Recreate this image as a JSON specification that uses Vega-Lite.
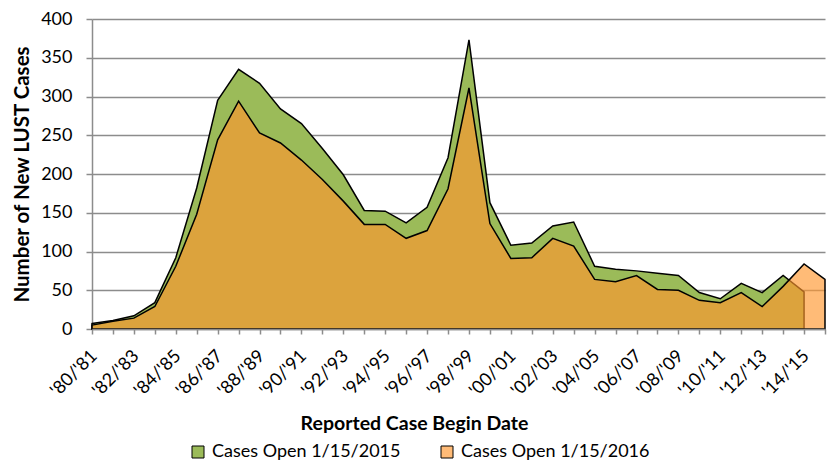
{
  "$schema": "https://vega.github.io/schema/vega-lite/v6.json",
  "width": 733,
  "height": 310,
  "autosize": {"type": "none"},
  "padding": {"left": 92, "top": 19, "right": 8, "bottom": 131},
  "background": "white",
  "config": {
    "font": "Lato",
    "view": {"stroke": null},
    "axis": {
      "labelFont": "Lato",
      "labelFontSize": 18,
      "labelColor": "#000000",
      "titleFont": "Lato",
      "titleFontSize": 19.5,
      "titleFontWeight": "bold",
      "titleColor": "#000000",
      "domainColor": "#8c8c8c",
      "domainWidth": 1.5,
      "tickColor": "#8c8c8c",
      "tickWidth": 1.5,
      "gridColor": "#8c8c8c",
      "gridWidth": 1.5
    },
    "axisY": {
      "values": [0, 50, 100, 150, 200, 250, 300, 350, 400],
      "labelOverlap": false,
      "tickSize": 6,
      "labelPadding": 14,
      "grid": true,
      "titleFontSize": 20.5,
      "titleX": -70,
      "titleY": 155,
      "titleAlign": "center",
      "titleBaseline": "middle"
    },
    "legend": {
      "labelFont": "Lato",
      "labelFontSize": 18,
      "labelColor": "#000000",
      "labelLimit": 0
    }
  },
  "data": {
    "values": [
      {"period": "'80/'81", "open2015": 7, "open2016": 5},
      {"period": "'81/'82", "open2015": 11, "open2016": 10},
      {"period": "'82/'83", "open2015": 17, "open2016": 14},
      {"period": "'83/'84", "open2015": 34, "open2016": 29},
      {"period": "'84/'85", "open2015": 92, "open2016": 81},
      {"period": "'85/'86", "open2015": 182, "open2016": 148},
      {"period": "'86/'87", "open2015": 295, "open2016": 244},
      {"period": "'87/'88", "open2015": 335, "open2016": 294},
      {"period": "'88/'89", "open2015": 317, "open2016": 253},
      {"period": "'89/'90", "open2015": 284, "open2016": 240},
      {"period": "'90/'91", "open2015": 265, "open2016": 218},
      {"period": "'91/'92", "open2015": 233, "open2016": 193},
      {"period": "'92/'93", "open2015": 199, "open2016": 165},
      {"period": "'93/'94", "open2015": 153, "open2016": 135},
      {"period": "'94/'95", "open2015": 152, "open2016": 135},
      {"period": "'95/'96", "open2015": 137, "open2016": 117},
      {"period": "'96/'97", "open2015": 157, "open2016": 127},
      {"period": "'97/'98", "open2015": 221, "open2016": 181},
      {"period": "'98/'99", "open2015": 373, "open2016": 311},
      {"period": "'99/'00", "open2015": 163, "open2016": 136},
      {"period": "'00/'01", "open2015": 108, "open2016": 91},
      {"period": "'01/'02", "open2015": 111, "open2016": 92},
      {"period": "'02/'03", "open2015": 133, "open2016": 117},
      {"period": "'03/'04", "open2015": 138, "open2016": 107},
      {"period": "'04/'05", "open2015": 81, "open2016": 64},
      {"period": "'05/'06", "open2015": 77, "open2016": 61},
      {"period": "'06/'07", "open2015": 75, "open2016": 69},
      {"period": "'07/'08", "open2015": 72, "open2016": 51},
      {"period": "'08/'09", "open2015": 69, "open2016": 50},
      {"period": "'09/'10", "open2015": 47, "open2016": 37},
      {"period": "'10/'11", "open2015": 39, "open2016": 34},
      {"period": "'11/'12", "open2015": 59, "open2016": 47},
      {"period": "'12/'13", "open2015": 47, "open2016": 29},
      {"period": "'13/'14", "open2015": 69, "open2016": 55},
      {"period": "'14/'15", "open2015": 48, "open2016": 84},
      {"period": "'15/'16", "open2015": null, "open2016": 64}
    ]
  },
  "encoding": {
    "x": {
      "field": "period",
      "type": "ordinal",
      "sort": null,
      "scale": {"type": "point", "padding": 0},
      "axis": {
        "title": "Reported Case Begin Date",
        "titleX": 322,
        "titleY": 94,
        "titleAlign": "center",
        "titleBaseline": "middle",
        "labelAngle": -45,
        "labelAlign": "right",
        "labelBaseline": "middle",
        "labelPadding": 19,
        "labelOffset": 2,
        "tickSize": 5,
        "labelExpr": "toNumber(substring(datum.label, 1, 3)) % 2 == 0 ? datum.label : ''",
        "labelOverlap": false,
        "grid": false,
        "zindex": 1
      }
    }
  },
  "layer": [
    {
      "mark": {"type": "area", "stroke": "#000000", "strokeWidth": 1.5, "strokeJoin": "miter"},
      "encoding": {
        "y": {
          "field": "open2015",
          "type": "quantitative",
          "scale": {"domain": [0, 400]},
          "axis": {
            "title": "Number of New LUST Cases",
            "values": [0, 50, 100, 150, 200, 250, 300, 350, 400],
            "labelOverlap": false
          }
        },
        "color": {
          "datum": "Cases Open 1/15/2015",
          "scale": {
            "domain": ["Cases Open 1/15/2015", "Cases Open 1/15/2016"],
            "range": ["#9BBB59", "#FFBB77"]
          },
          "legend": {
            "title": null,
            "orient": "none",
            "direction": "horizontal",
            "legendX": 97,
            "legendY": 424,
            "symbolType": "square",
            "symbolSize": 144,
            "symbolStrokeColor": "#000000",
            "symbolStrokeWidth": 1,
            "symbolOpacity": 1,
            "labelOffset": 5,
            "columnPadding": 37
          }
        }
      }
    },
    {
      "mark": {"type": "area", "fill": "#FF972E", "fillOpacity": 0.65, "stroke": "#000000", "strokeWidth": 1.5, "strokeJoin": "miter"},
      "encoding": {
        "y": {
          "field": "open2016",
          "type": "quantitative",
          "axis": {
            "title": "Number of New LUST Cases",
            "values": [0, 50, 100, 150, 200, 250, 300, 350, 400],
            "labelOverlap": false
          }
        }
      }
    }
  ]
}
